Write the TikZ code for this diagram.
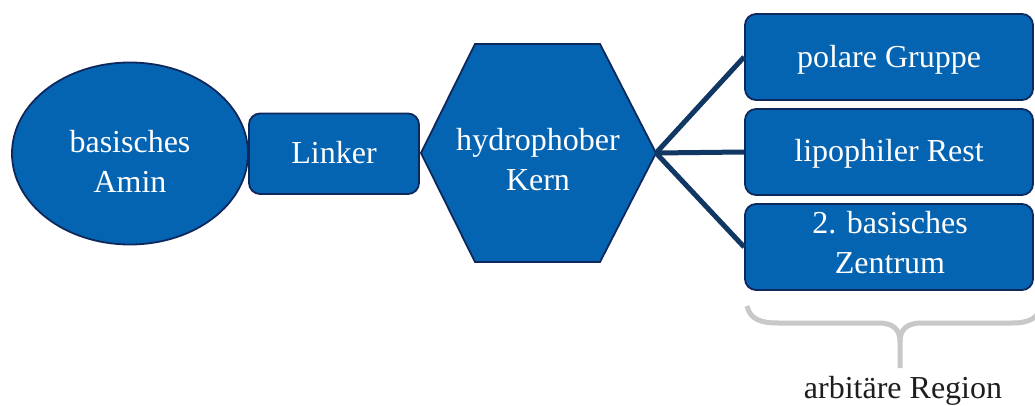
\documentclass[tikz,border=0pt]{standalone}
\usepackage{fontspec}
\setmainfont{Liberation Serif}
\usetikzlibrary{shapes.geometric}
\definecolor{boxblue}{RGB}{5,100,177}
\definecolor{edgenavy}{RGB}{14,40,92}
\definecolor{linknavy}{RGB}{16,56,98}
\definecolor{bracegray}{RGB}{200,200,200}
\definecolor{labelgray}{RGB}{30,30,30}
\begin{document}
\begin{tikzpicture}[x=1pt,y=-1pt,
  shapebox/.style={draw=edgenavy, line width=1.8pt, fill=boxblue, inner sep=0pt},
  rbox/.style={shapebox, rectangle, rounded corners=11pt},
  lbl/.style={text=white, font=\fontsize{32}{40}\selectfont, align=center, inner sep=0pt},
  link/.style={draw=linknavy, line width=5pt},
  bracestroke/.style={draw=bracegray, line width=5pt},
]
\clip (0,0) rectangle (1035,406);
\fill[white] (0,0) rectangle (1035,406);
% left chain
\node[shapebox, ellipse, minimum width=236pt, minimum height=182pt] (amin) at (130,153.5) {};
\node[rbox, minimum width=170pt, minimum height=80.5pt] (linker) at (334,153.75) {};
\coordinate (hexL) at (421,153);
\coordinate (hexR) at (656,153);
\draw[shapebox, line join=miter] (hexL) -- (475,44) -- (600,44) -- (hexR) -- (600,262) -- (475,262) -- cycle;
% right boxes
\node[rbox, minimum width=288pt, minimum height=86pt] (polar) at (889,57) {};
\node[rbox, minimum width=288pt, minimum height=86pt] (lipo) at (889,152) {};
\node[rbox, minimum width=288pt, minimum height=86pt] (zweit) at (889,247) {};
% connectors
\draw[link] (hexR) -- (polar.west);
\draw[link] (hexR) -- (lipo.west);
\draw[link] (hexR) -- (zweit.west);
% texts
\node[lbl] (amintext) at (130,161) {basisches\\Amin};
\node[lbl, anchor=base] (linkertext) at (334,163.5) {Linker};
\node[lbl] (hextext) at (538,160) {hydrophober\\Kern};
\node[lbl, anchor=base] (polartext) at (889,68) {polare Gruppe};
\node[lbl, anchor=base] (lipotext) at (889,162) {lipophiler Rest};
\node[lbl] (zweittext) at (890,242.4) {2. basisches\\Zentrum};
% brace
\coordinate (braceL) at (747,306);
\coordinate (braceTip) at (900,368);
\coordinate (braceR) at (1042,305);
\draw[bracestroke] (braceL) .. controls (750,319) and (760,323) .. (778,323) -- (878,323) .. controls (893,323) and (900,329) .. (900,342) -- (braceTip);
\draw[bracestroke] (900,342) .. controls (900,329) and (907,323) .. (922,323) -- (1012,323) .. controls (1030,323) and (1038,318) .. (braceR);
\node[lbl, text=labelgray, anchor=base] (region) at (903,398) {arbitäre Region};
\end{tikzpicture}
\end{document}
